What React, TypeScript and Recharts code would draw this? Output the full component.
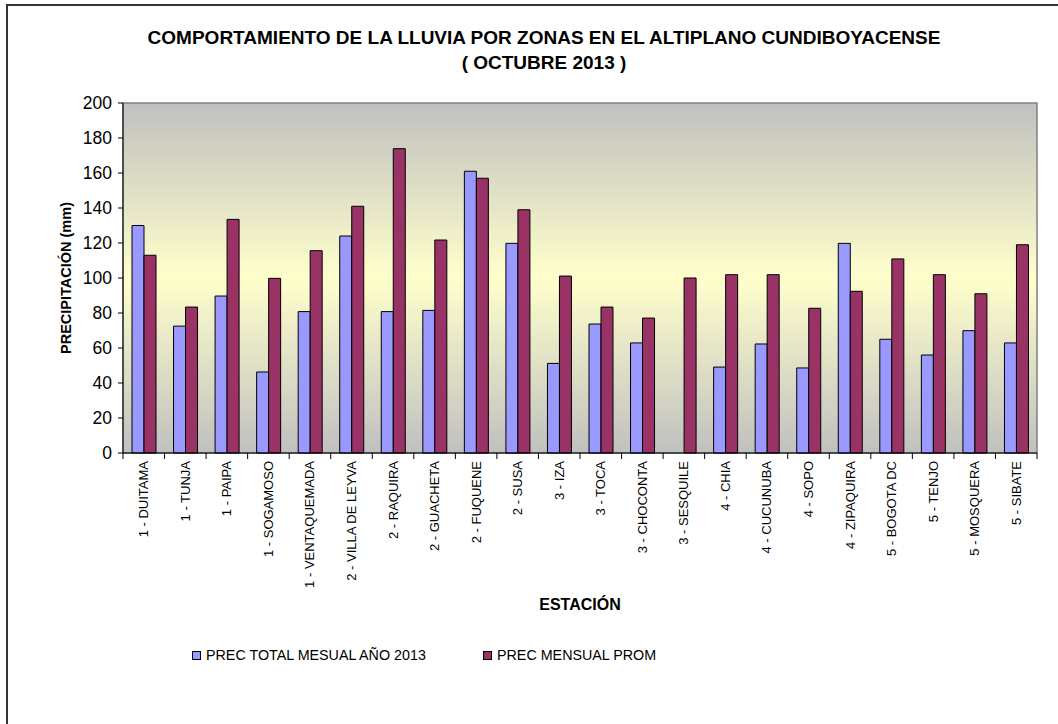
import React from 'react';
import { BarChart, Bar, XAxis, YAxis, ReferenceArea, Legend, Label } from 'recharts';

const stations = [
  '1 - DUITAMA', '1 - TUNJA', '1 - PAIPA', '1 - SOGAMOSO', '1 - VENTAQUEMADA',
  '2 - VILLA DE LEYVA', '2 - RAQUIRA', '2 - GUACHETA', '2 - FUQUENE', '2 - SUSA',
  '3 - IZA', '3 - TOCA', '3 - CHOCONTA', '3 - SESQUILE', '4 - CHIA',
  '4 - CUCUNUBA', '4 - SOPO', '4 - ZIPAQUIRA', '5 - BOGOTA DC', '5 - TENJO',
  '5 - MOSQUERA', '5 - SIBATE',
];
const precTotal2013 = [130, 72.5, 89.7, 46.3, 80.8, 124, 80.8, 81.5, 161, 119.8, 51.2, 73.7, 62.9, 0, 49.1, 62.3, 48.6, 119.8, 65, 56, 69.9, 62.9];
const precMensualProm = [113, 83.4, 133.5, 99.8, 115.6, 141, 173.9, 121.7, 157, 139, 101.1, 83.4, 77.1, 100, 101.9, 101.9, 82.7, 92.4, 110.9, 101.9, 91, 119];
const yTicks = [0, 20, 40, 60, 80, 100, 120, 140, 160, 180, 200];
const seriesNames = ['PREC TOTAL MESUAL AÑO 2013', 'PREC MENSUAL PROM'];
const seriesColors = ['#9999ff', '#993366'];

const data = stations.map((s, i) => ({ name: s, a: precTotal2013[i], b: precMensualProm[i] }));

const FONT = '"Liberation Sans", Arial, sans-serif';
const W = 1058;
const H = 724;
const M = { top: 103, right: 21, left: 0, bottom: 0 };
const YW = 123;
const PLOT_W = W - M.left - M.right - YW;
const PLOT_H = 350;

const XTick = (props: any) => {
  const { x, y, payload, index } = props;
  const band = PLOT_W / stations.length;
  return (
    <g>
      <line x1={x - band / 2} x2={x - band / 2} y1={y} y2={y + 6} stroke="#000" />
      {index === stations.length - 1 && (
        <line x1={x + band / 2} x2={x + band / 2} y1={y} y2={y + 6} stroke="#000" />
      )}
      <text
        transform={`translate(${x},${y + 8}) rotate(-90)`}
        textAnchor="end"
        dominantBaseline="central"
        fontFamily={FONT}
        fontSize={13}
        fill="#000"
      >
        {payload.value}
      </text>
    </g>
  );
};

const LegendContent = () => (
  <div style={{ position: 'relative', height: 18, fontFamily: FONT, fontSize: 14.3, color: '#000' }}>
    {[192, 483].map((left, i) => (
      <div key={i} style={{ position: 'absolute', left, top: 0, display: 'flex', alignItems: 'center', whiteSpace: 'nowrap' }}>
        <span style={{ display: 'inline-block', width: 7, height: 7, background: seriesColors[i], border: '1px solid #000', marginRight: 5 }} />
        <span>{seriesNames[i]}</span>
      </div>
    ))}
  </div>
);

export default function App() {
  return (
    <div style={{ position: 'absolute', left: 0, top: 0, width: W, height: H, overflow: 'hidden', background: '#fff' }}>
      <div style={{ position: 'absolute', left: 6, top: 4, width: W + 20, height: H + 20, border: '2px solid #333', boxSizing: 'border-box' }} />
      <div style={{ position: 'absolute', left: 0, top: 25, width: 1088, textAlign: 'center', fontFamily: FONT, fontWeight: 'bold', fontSize: 19, lineHeight: '25px', color: '#000' }}>
        <div>COMPORTAMIENTO DE LA LLUVIA POR ZONAS EN EL ALTIPLANO CUNDIBOYACENSE</div>
        <div>( OCTUBRE 2013 )</div>
      </div>
      <div style={{ position: 'absolute', left: 0, top: 0 }}>
        <BarChart width={W} height={H} data={data} margin={M} barGap={0} barSize={12}>
          <defs>
            <linearGradient id="plotBg" x1="0" y1="0" x2="0" y2="1">
              <stop offset="0%" stopColor="#c0c0c0" />
              <stop offset="50%" stopColor="#ffffcc" />
              <stop offset="100%" stopColor="#c0c0c0" />
            </linearGradient>
          </defs>
          <ReferenceArea y1={0} y2={200} fill="url(#plotBg)" fillOpacity={1} stroke="#808080" strokeWidth={1.5} />
          <XAxis
            dataKey="name"
            interval={0}
            height={H - M.top - PLOT_H}
            tickSize={0}
            tickMargin={0}
            tickLine={false}
            tick={<XTick />}
            axisLine={{ stroke: '#000' }}
          >
            <Label
              content={(p: any) => {
                const vb = p.viewBox;
                return (
                  <text x={vb.x + vb.width / 2} y={vb.y + 157} textAnchor="middle" fontFamily={FONT} fontWeight="bold" fontSize={16} fill="#000">
                    ESTACIÓN
                  </text>
                );
              }}
            />
          </XAxis>
          <YAxis
            width={YW}
            domain={[0, 200]}
            ticks={yTicks}
            interval={0}
            tickSize={5}
            tickMargin={6}
            tick={{ fontFamily: FONT, fontSize: 17.5, fill: '#000' }}
            tickLine={{ stroke: '#000' }}
            axisLine={{ stroke: '#000' }}
          >
            <Label
              content={() => (
                <text transform={`translate(66,${M.top + PLOT_H / 2}) rotate(-90)`} textAnchor="middle" dominantBaseline="central" fontFamily={FONT} fontWeight="bold" fontSize={14.5} fill="#000">
                  PRECIPITACIÓN (mm)
                </text>
              )}
            />
          </YAxis>
          <Legend
            layout="horizontal"
            verticalAlign="middle"
            align="center"
            content={<LegendContent />}
            wrapperStyle={{ top: 647, left: 0, width: W }}
          />
          <Bar dataKey="a" name={seriesNames[0]} fill={seriesColors[0]} stroke="#000" strokeWidth={1} isAnimationActive={false} />
          <Bar dataKey="b" name={seriesNames[1]} fill={seriesColors[1]} stroke="#000" strokeWidth={1} isAnimationActive={false} />
        </BarChart>
      </div>
    </div>
  );
}
